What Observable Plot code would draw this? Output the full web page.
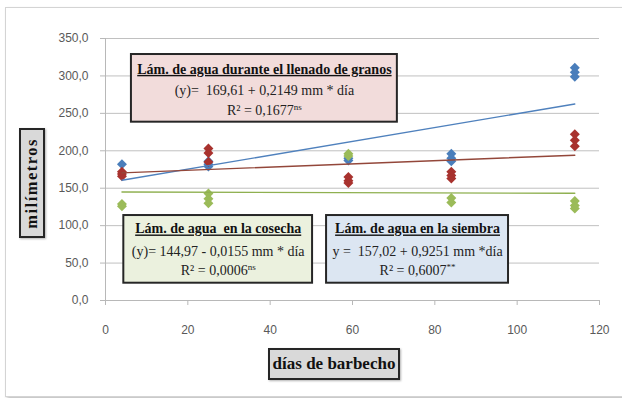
<!DOCTYPE html>
<html>
<head>
<meta charset="utf-8">
<script src="https://cdn.jsdelivr.net/npm/d3@7"></script>
<script src="https://cdn.jsdelivr.net/npm/@observablehq/plot@0.6"></script>
<style>
  html, body { margin: 0; padding: 0; background: #ffffff; overflow: hidden; }
  #wrap { position: relative; width: 622px; height: 398px; overflow: hidden; background: #fff; }
  #frame { position: absolute; left: 5px; top: 7px; width: 640px; height: 388px;
           border: 1px solid #d4d4d4; box-shadow: 2px 2px 3px rgba(0,0,0,0.25); background: #fff; }
  #chart { position: absolute; left: 0; top: 0; }
  .axtitle { position: absolute; box-sizing: border-box; background: #d9d9d9; border: 2px solid #262626;
             font-family: 'Liberation Serif', serif; font-weight: bold; color: #111;
             display: flex; align-items: center; justify-content: center; box-shadow: 1px 1px 2px rgba(0,0,0,0.3); }
  #ytitle { left: 19px; top: 128px; width: 26px; height: 110px; font-size: 16.5px; }
  #ytitle span { writing-mode: vertical-rl; transform: rotate(180deg); letter-spacing: 1.5px; }
  #xtitle { left: 268px; top: 348px; width: 132px; height: 32px; font-size: 17px; }
</style>
</head>
<body>
<div id="wrap">
  <div id="frame"></div>
  <div id="chart"></div>
  <div id="ytitle" class="axtitle"><span>milímetros</span></div>
  <div id="xtitle" class="axtitle">días de barbecho</div>
</div>
<script>
// ---- data ----
const xTicks = [0, 20, 40, 60, 80, 100, 120];
const yTicks = [0, 50, 100, 150, 200, 250, 300, 350];

// Lámina de agua en la siembra (blue)
const siembraX = [4, 25, 25, 25, 59, 59, 84, 84, 84, 114, 114, 114];
const siembraY = [182, 186, 182, 179, 190, 187, 196, 190, 186, 311, 305, 299];
// Lámina de agua durante el llenado de granos (red)
const llenadoX = [4, 4, 4, 25, 25, 25, 59, 59, 59, 84, 84, 84, 114, 114, 114];
const llenadoY = [172, 169, 166, 203, 197, 185, 165, 160, 157, 172, 167, 163, 222, 214, 206];
// Lámina de agua en la cosecha (green)
const cosechaX = [4, 4, 25, 25, 25, 59, 59, 84, 84, 114, 114, 114];
const cosechaY = [129, 126, 143, 136, 130, 196, 193, 137, 131, 133, 127, 123];

// regression equations (from the chart text)
const series = ["siembra", "llenado", "cosecha"];
const intercepts = [157.02, 169.61, 144.97];
const slopes = [0.9251, 0.2149, -0.0155];
const trendRange = [4, 114];

// annotation texts
const boxTitles = ["Lám. de agua en la siembra", "Lám. de agua durante el llenado de granos", "Lám. de agua  en la cosecha"];
const boxEquations = ["y =  157,02 + 0,9251 mm *día", "(y)=  169,61 + 0,2149 mm * día", "(y)= 144,97 - 0,0155 mm * día"];
const boxR2 = ["R² = 0,6007", "R² = 0,1677", "R² = 0,0006"];
const boxR2Sup = ["**", "ns", "ns"];

// ---- styling / layout (separate from data) ----
const markerColors = {siembra: "#4a7ebb", llenado: "#a8322e", cosecha: "#9bbb59"};
const lineColors = {siembra: "#4f81bd", llenado: "#93473a", cosecha: "#8fb050"};
const boxFills = {siembra: "#dce6f2", llenado: "#f2dcdb", cosecha: "#ebf1de"};
// box extents in data units [x1, x2, y1, y2] and text rows (y of title, equation, R²)
const boxLayout = {
  siembra: {x1: 53.7, x2: 97.9, y1: 23.1, y2: 113.5, rows: [95.5, 65.8, 40.1]},
  llenado: {x1: 6.3, x2: 70.9, y1: 238.2, y2: 328.6, rows: [308.7, 280.5, 253.2]},
  cosecha: {x1: 4.45, x2: 50.3, y1: 23.1, y2: 113.5, rows: [95.5, 65.8, 40.1]}
};

const pts = (xs, ys, s) => xs.map((x, i) => ({x, y: ys[i], s}));
const points = [
  ...pts(siembraX, siembraY, "siembra"),
  ...pts(llenadoX, llenadoY, "llenado"),
  ...pts(cosechaX, cosechaY, "cosecha")
];
const trends = series.flatMap((s, i) => trendRange.map(x => ({s, x, y: intercepts[i] + slopes[i] * x})));

const boxes = series.map(s => ({s, ...boxLayout[s]}));
const labels = series.flatMap((s, i) => {
  const L = boxLayout[s];
  const cx = (L.x1 + L.x2) / 2;
  return [
    {s, x: cx, y: L.rows[0], text: boxTitles[i], kind: "title"},
    {s, x: cx, y: L.rows[1], text: boxEquations[i], kind: "eq"},
    {s, x: cx, y: L.rows[2], text: boxR2[i] + "^" + boxR2Sup[i], kind: "r2"}
  ];
});

const fmt = d => d.toFixed(1).replace(".", ",");
const serif = "'Liberation Serif', serif";

const chart = Plot.plot({
  width: 622,
  height: 398,
  marginLeft: 105,
  marginRight: 23,
  marginTop: 38,
  marginBottom: 98,
  style: {fontFamily: "'Liberation Sans', Arial, sans-serif", fontSize: "12px", background: "transparent", overflow: "visible"},
  x: {domain: [0, 120]},
  y: {domain: [0, 350]},
  marks: [
    Plot.gridY(yTicks, {stroke: "#c0c0c0", strokeOpacity: 1}),
    Plot.ruleX([0], {stroke: "#b8b8b8"}),
    Plot.ruleY([0], {stroke: "#b8b8b8"}),
    Plot.axisY({ticks: yTicks, tickSize: 5, tickPadding: 12, tickFormat: fmt, label: null, stroke: "#b8b8b8", fill: "#595959"}),
    Plot.axisX({ticks: xTicks, tickSize: 5, tickPadding: 20, label: null, stroke: "#b8b8b8", fill: "#595959"}),
    ...series.map(s => Plot.dot(points.filter(d => d.s === s), {
      x: "x", y: "y", symbol: "diamond2", r: 4.5, fill: markerColors[s], stroke: "none"
    })),
    ...series.map(s => Plot.line(trends.filter(d => d.s === s), {
      x: "x", y: "y", stroke: lineColors[s], strokeWidth: 1.4
    })),
    Plot.rect(boxes, {x1: "x1", x2: "x2", y1: "y1", y2: "y2", fill: d => boxFills[d.s], stroke: "#262626", strokeWidth: 2}),
    Plot.text(labels.filter(d => d.kind === "title"), {x: "x", y: "y", text: "text", fontFamily: serif, fontSize: 14, fontWeight: "bold", fill: "#111"}),
    Plot.text(labels.filter(d => d.kind !== "title"), {x: "x", y: "y", text: "text", fontFamily: serif, fontSize: 14, fill: "#222"})
  ]
});

document.getElementById("chart").appendChild(chart);

const sel = d3.select(chart);
sel.selectAll("text").each(function () {
  const t = this.textContent;
  if (t.startsWith("Lám.")) {
    d3.select(this).style("text-decoration", "underline").style("white-space", "pre");
  }
  if (t.includes("  ")) d3.select(this).style("white-space", "pre");
  if (t.includes("^")) {
    const [a, b] = t.split("^");
    const el = d3.select(this);
    el.text(a);
    el.append("tspan").attr("font-size", "9px").attr("dy", "-5").text(b);
  }
});
</script>
</body>
</html>
